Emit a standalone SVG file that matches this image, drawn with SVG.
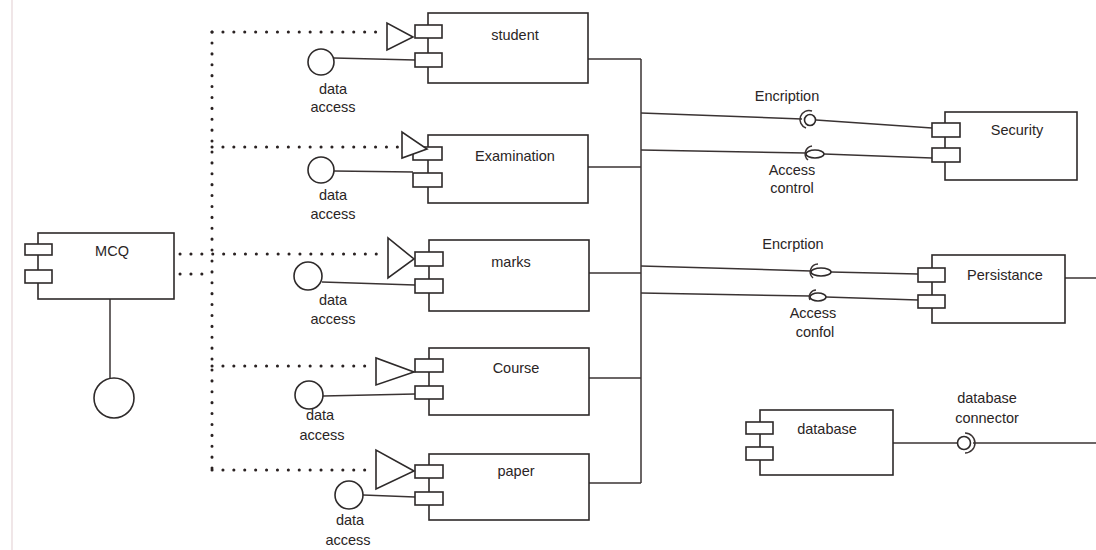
<svg xmlns="http://www.w3.org/2000/svg" width="1096" height="550" viewBox="0 0 1096 550">
<style>
.box{fill:#fff;stroke:#2e2a2a;stroke-width:1.6}
.port{fill:#fff;stroke:#2e2a2a;stroke-width:1.6}
.ln{fill:none;stroke:#3a3333;stroke-width:1.5}
.dot{fill:none;stroke:#2a2222;stroke-width:3;stroke-linecap:round;stroke-dasharray:0.1 10.8}
.iface{fill:#fff;stroke:#2e2a2a;stroke-width:1.6}
.tri{fill:#fff;stroke:#2e2a2a;stroke-width:1.6;stroke-linejoin:miter}
text{font-family:"Liberation Sans",Arial,sans-serif;font-size:14.5px;fill:#2a2525;text-anchor:middle}
</style>
<rect width="1096" height="550" fill="#fff"/>
<line x1="12" y1="0" x2="12" y2="550" stroke="#e6d6d8" stroke-width="1.2"/>

<g id="connectors">
  <path class="dot" d="M212,32 L212,470"/>
  <path class="dot" d="M212,32 L382,32"/>
  <path class="dot" d="M212,147 L398,147"/>
  <path class="dot" d="M180,254 L386,254"/>
  <path class="dot" d="M180,274 L212,274"/>
  <path class="dot" d="M212,366 L370,366"/>
  <path class="dot" d="M212,470 L370,470"/>
  <line class="ln" x1="110" y1="299" x2="110" y2="378"/>
  <line class="ln" x1="334" y1="58" x2="415" y2="60"/>
  <line class="ln" x1="334" y1="171" x2="413" y2="172"/>
  <line class="ln" x1="322" y1="282" x2="415" y2="285"/>
  <line class="ln" x1="323" y1="396" x2="415" y2="394"/>
  <line class="ln" x1="363" y1="495" x2="415" y2="497"/>
  <line class="ln" x1="641" y1="59" x2="641" y2="483"/>
  <line class="ln" x1="588" y1="59" x2="641" y2="59"/>
  <line class="ln" x1="588" y1="167" x2="641" y2="167"/>
  <line class="ln" x1="589" y1="273" x2="641" y2="273"/>
  <line class="ln" x1="589" y1="378" x2="641" y2="378"/>
  <line class="ln" x1="589" y1="483" x2="641" y2="483"/>
  <line class="ln" x1="641" y1="113" x2="802" y2="119"/>
  <line class="ln" x1="816" y1="120" x2="932" y2="128"/>
  <line class="ln" x1="641" y1="150" x2="806" y2="153"/>
  <line class="ln" x1="824" y1="154" x2="932" y2="158"/>
  <line class="ln" x1="641" y1="266" x2="811" y2="271"/>
  <line class="ln" x1="831" y1="272" x2="918" y2="274"/>
  <line class="ln" x1="641" y1="293" x2="810" y2="296"/>
  <line class="ln" x1="826" y1="297" x2="918" y2="300"/>
  <line class="ln" x1="1065" y1="278" x2="1096" y2="278"/>
  <line class="ln" x1="893" y1="443" x2="957" y2="443"/>
  <line class="ln" x1="973" y1="443" x2="1096" y2="443"/>
</g>

<g id="mcq">
  <rect class="box" x="38" y="233" width="136" height="66"/>
  <rect class="port" x="25" y="244" width="27" height="11"/>
  <rect class="port" x="25" y="270" width="27" height="13"/>
  <text x="112" y="256">MCQ</text>
  <circle class="iface" cx="114" cy="398" r="20"/>
</g>

<g id="student">
  <rect class="box" x="428" y="13" width="160" height="70"/>
  <rect class="port" x="415" y="25" width="27" height="13"/>
  <rect class="port" x="415" y="53" width="27" height="14"/>
  <polygon class="tri" points="387,23 387,50 413,37"/>
  <text x="515" y="40">student</text>
  <circle class="iface" cx="321" cy="62" r="13"/>
  <text x="333" y="94">data</text>
  <text x="333" y="112">access</text>
</g>

<g id="examination">
  <rect class="box" x="428" y="135" width="160" height="68"/>
  <rect class="port" x="413" y="147" width="29" height="13"/>
  <rect class="port" x="413" y="173" width="29" height="14"/>
  <polygon class="tri" points="402,132 402,158 427,149"/>
  <text x="515" y="161">Examination</text>
  <circle class="iface" cx="321" cy="170" r="13"/>
  <text x="333" y="200">data</text>
  <text x="333" y="219">access</text>
</g>

<g id="marks">
  <rect class="box" x="429" y="240" width="160" height="71"/>
  <rect class="port" x="415" y="252" width="28" height="14"/>
  <rect class="port" x="415" y="279" width="28" height="14"/>
  <polygon class="tri" points="388,238 388,278 414,259"/>
  <text x="511" y="267">marks</text>
  <circle class="iface" cx="308" cy="276" r="14"/>
  <text x="333" y="305">data</text>
  <text x="333" y="324">access</text>
</g>

<g id="course">
  <rect class="box" x="429" y="348" width="160" height="67"/>
  <rect class="port" x="415" y="359" width="28" height="13"/>
  <rect class="port" x="415" y="386" width="28" height="13"/>
  <polygon class="tri" points="376,358 376,385 414,372"/>
  <text x="516" y="373">Course</text>
  <circle class="iface" cx="309" cy="395" r="14"/>
  <text x="320" y="420">data</text>
  <text x="322" y="440">access</text>
</g>

<g id="paper">
  <rect class="box" x="429" y="454" width="160" height="66"/>
  <rect class="port" x="415" y="465" width="28" height="13"/>
  <rect class="port" x="415" y="492" width="28" height="13"/>
  <polygon class="tri" points="376,450 376,489 414,471"/>
  <text x="516" y="476">paper</text>
  <circle class="iface" cx="349" cy="495" r="14"/>
  <text x="350" y="525">data</text>
  <text x="348" y="545">access</text>
</g>

<g id="security">
  <rect class="box" x="945" y="112" width="132" height="68"/>
  <rect class="port" x="932" y="123" width="28" height="14"/>
  <rect class="port" x="932" y="148" width="28" height="14"/>
  <text x="1017" y="135">Security</text>
</g>

<g id="encryption-security">
  <circle class="iface" cx="810" cy="120" r="5.5"/>
  <path class="ln" d="M812,111 A9,9 0 0 0 806,128"/>
  <text x="787" y="101">Encription</text>
</g>

<g id="access-security">
  <ellipse class="iface" cx="815" cy="154" rx="9" ry="4"/>
  <path class="ln" d="M812,146 A8,8 0 0 0 808,160"/>
  <text x="792" y="175">Access</text>
  <text x="792" y="193">control</text>
</g>

<g id="persistance">
  <rect class="box" x="932" y="255" width="133" height="68"/>
  <rect class="port" x="918" y="268" width="27" height="14"/>
  <rect class="port" x="918" y="295" width="27" height="13"/>
  <text x="1005" y="280">Persistance</text>
</g>

<g id="encryption-persistance">
  <ellipse class="iface" cx="821" cy="272" rx="10" ry="4"/>
  <path class="ln" d="M818,264 A8,8 0 0 0 813,278"/>
  <text x="793" y="249">Encrption</text>
</g>

<g id="access-persistance">
  <ellipse class="iface" cx="818" cy="297" rx="8" ry="4"/>
  <path class="ln" d="M816,290 A7,7 0 0 0 810,300"/>
  <text x="813" y="318">Access</text>
  <text x="815" y="337">confol</text>
</g>

<g id="database">
  <rect class="box" x="760" y="410" width="133" height="65"/>
  <rect class="port" x="746" y="422" width="27" height="12"/>
  <rect class="port" x="746" y="447" width="27" height="13"/>
  <text x="827" y="434">database</text>
</g>

<g id="database-connector">
  <circle class="iface" cx="964" cy="443" r="6.5"/>
  <path class="ln" d="M965,433 A10,10 0 0 1 965,453"/>
  <text x="987" y="403">database</text>
  <text x="987" y="423">connector</text>
</g>
</svg>
